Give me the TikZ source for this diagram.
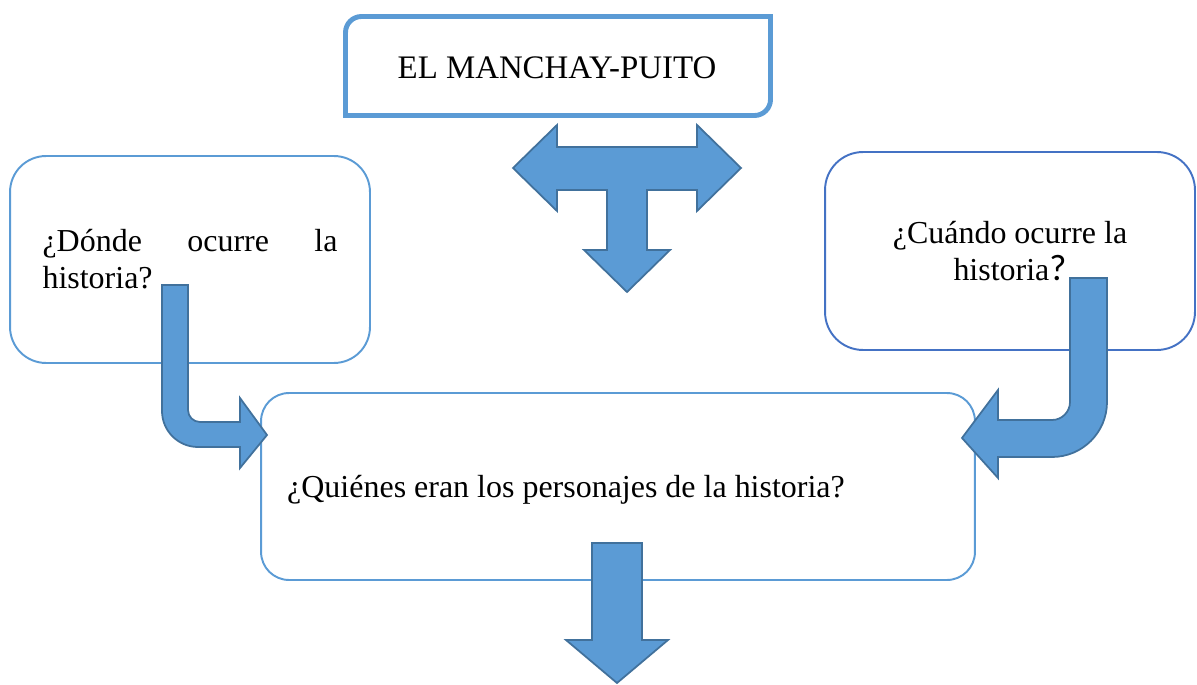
\documentclass[tikz,border=0pt]{standalone}
\usepackage{fontspec}
\setmainfont{Liberation Serif}
\newfontfamily\calibri{Carlito}
\usepackage{tikz}
\usetikzlibrary{positioning}

\begin{document}
\begin{tikzpicture}[x=0.02cm,y=0.02cm,font=\fontsize{18.2}{21}\selectfont]
	% --- Colores y estilos (unidades: 1 = 1 px de la figura, y hacia arriba) ---
	\definecolor{cborde}{RGB}{91,155,213}
	\definecolor{cborde2}{RGB}{68,114,196}
	\definecolor{cflecha}{RGB}{91,155,213}
	\definecolor{clinea}{RGB}{65,113,156}
	\tikzset{caja/.style={draw=cborde, line width=1.1pt, rounded corners=0.72cm, inner sep=0pt},
		flecha/.style={fill=cflecha, draw=clinea, line width=1pt, line join=miter}}
	\useasboundingbox (0,0) rectangle (1197,684);

	% --- Título (esquinas diagonales redondeadas) ---
	\draw[draw=cborde, line width=2.8pt] (345.5,568.5) -- (345.5,651.5) arc[start angle=180,end angle=90,radius=16]
		-- (770.5,667.5) -- (770.5,584.5) arc[start angle=0,end angle=-90,radius=16] -- cycle;
	\node[anchor=base, font=\fontsize{18.7}{21}\selectfont] (titulo) at (557,605) {EL MANCHAY-PUITO};

	% --- Cajas de preguntas ---
	\node[caja, minimum width=7.2cm, minimum height=4.14cm, text width=5.9cm, align=justify] (donde) at (190,424.5)
		{¿Dónde ocurre la\linebreak historia?};
	\node[caja, draw=cborde2, rounded corners=0.76cm, minimum width=7.4cm, minimum height=3.96cm, align=center] (cuando) at (1010,433)
		{¿Cuándo ocurre la\\historia{\calibri\fontsize{21}{21}\selectfont ?}};
	\node[caja, rounded corners=0.56cm, minimum width=14.28cm, minimum height=3.74cm] (quienes) at (618,197.5) {};
	\node[anchor=base west] (quienestxt) at (281,187) {¿Quiénes eran los personajes de la historia?};

	% --- Flecha en T bajo el título ---
	\draw[flecha] (513,516) -- (557,559) -- (557,537) -- (697,537) -- (697,559) -- (741,516) -- (697,473) -- (697,494)
		-- (647,494) -- (647,434) -- (670,434) -- (627,392) -- (584,434) -- (607,434) -- (607,494) -- (557,494) -- (557,473) -- cycle;

	% --- Flechas dobladas hacia la caja central ---
	\draw[flecha] (162,399) -- (162,273) arc[start angle=180,end angle=270,radius=36] -- (240,237) -- (240,216) -- (267,249)
		-- (240,286) -- (240,262) -- (200,262) arc[start angle=270,end angle=180,radius=12] -- (188,399) -- cycle;
	\draw[flecha] (1070,406) -- (1107,406) -- (1107,282) arc[start angle=0,end angle=-90,radius=55] -- (998,227) -- (998,206)
		-- (962,246) -- (998,294) -- (998,264) -- (1052,264) arc[start angle=-90,end angle=0,radius=18] -- cycle;

	% --- Flecha inferior ---
	\draw[flecha] (592,141) -- (642,141) -- (642,44) -- (668,44) -- (617,1) -- (566,44) -- (592,44) -- cycle;
\end{tikzpicture}
\end{document}
